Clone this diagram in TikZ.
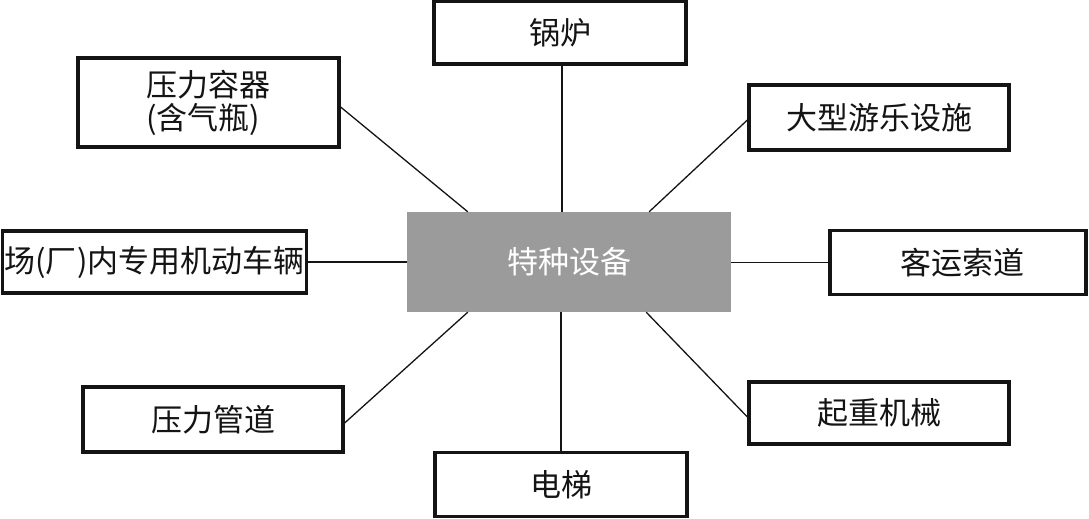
\documentclass[tikz,border=0pt]{standalone}
\usepackage{fontspec}
\setmainfont{Noto Sans CJK SC}
\usetikzlibrary{calc}
\definecolor{centerfill}{RGB}{155,155,155}
\definecolor{ink}{RGB}{20,20,20}
\begin{document}
\begin{tikzpicture}[x=1pt,y=-1pt,
  itembox/.style={draw=ink,line width=3.2pt,fill=white,inner sep=0pt,text=ink,
    font=\fontsize{31}{33}\selectfont},
  hubbox/.style={fill=centerfill,inner sep=0pt,text=white,
    minimum width=324pt,minimum height=100pt,font=\fontsize{31}{33}\selectfont},
  link/.style={draw=ink,line width=1.3pt}]
\useasboundingbox (0,0) rectangle (1089,519);
\node[hubbox] (hub) at (569,262) {特种设备};
\node[itembox,minimum width=252pt,minimum height=63pt] (guolu) at (560,32.5) {锅炉};
\node[itembox,minimum width=261pt,minimum height=89pt,align=left] (ylrq) at (208.5,102.5) {压力容器\\(含气瓶)};
\node[itembox,minimum width=260pt,minimum height=65pt] (dxyl) at (879,117.5) {大型游乐设施};
\node[itembox,minimum width=304pt,minimum height=62pt] (cnc) at (154.5,262) {场(厂)内专用机动车辆};
\node[itembox,minimum width=256pt,minimum height=64pt] (kysd) at (958,262.5) {\hspace{8pt}客运索道};
\node[itembox,minimum width=260pt,minimum height=65pt] (ylgd) at (213,419.5) {压力管道};
\node[itembox,minimum width=260pt,minimum height=62pt] (qzjx) at (879,413) {起重机械};
\node[itembox,minimum width=252pt,minimum height=64pt] (dt) at (561,484.5) {电梯};
% hub attachment points
\coordinate (hubT) at ($(hub.north west)!0.478!(hub.north east)$);
\coordinate (hubTL) at ($(hub.north west)!0.188!(hub.north east)$);
\coordinate (hubTR) at ($(hub.north west)!0.747!(hub.north east)$);
\coordinate (hubBL) at ($(hub.south west)!0.188!(hub.south east)$);
\coordinate (hubBR) at ($(hub.south west)!0.738!(hub.south east)$);
% connectors
\draw[link] (hubT |- guolu.south) -- (hubT);
\draw[link] ([yshift=-4.5pt]ylrq.east) -- (hubTL);
\draw[link] ([yshift=-2.5pt]dxyl.west) -- (hubTR);
\draw[link] (cnc.east) -- (hub.west |- cnc.east);
\draw[link] (kysd.west) -- (hub.east |- kysd.west);
\draw[link] ([yshift=-3.5pt]ylgd.east) -- (hubBL);
\draw[link] ([yshift=-4pt]qzjx.west) -- (hubBR);
\draw[link] (dt.north) -- (dt.north |- hub.south);
\end{tikzpicture}
\end{document}
